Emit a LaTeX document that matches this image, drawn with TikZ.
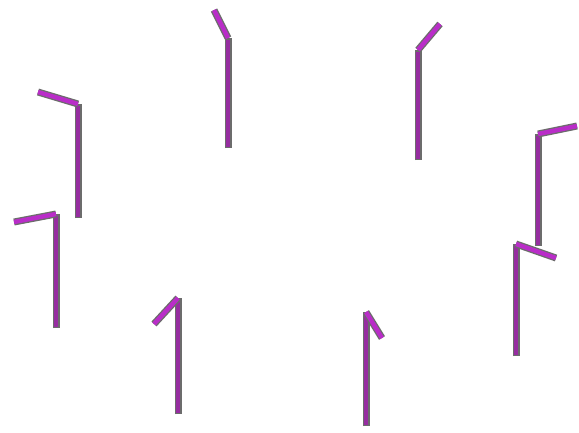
\documentclass[tikz,border=0pt]{standalone}
\begin{document}
\begin{tikzpicture}[x=1pt,y=-1pt,
  rodout/.style={draw=gray!85!black,line width=7pt,line cap=butt},
  rodv/.style={draw=vcol,line width=3.8pt},
  rodb/.style={draw=bcol,line width=4.4pt}]
\definecolor{vcol}{RGB}{150,45,160}
\definecolor{bcol}{RGB}{185,45,200}
\useasboundingbox (0,0) rectangle (579,432);
\fill[white] (0,0) rectangle (579,432);
\foreach \tx/\ty/\bx/\by/\ex/\ey in {
  228/38/228/148/214/10,
  418/50/418/160/440/24,
  78/104/78/218/38/92,
  56/214/56/328/14/222,
  538/134/538/246/577/126,
  516/244/516/356/556/258,
  178/298/178/414/154/324,
  366/312/366/426/382/338}{
  \draw[rodout] (\bx,\by) -- (\tx,\ty);
  \draw[rodv] (\bx,\by-1.5) -- (\tx,\ty+1.5);
  \draw[rodout] (\tx,\ty) -- (\ex,\ey);
  \draw[rodb] (\tx,\ty) -- (\ex,\ey);
}
\end{tikzpicture}
\end{document}
